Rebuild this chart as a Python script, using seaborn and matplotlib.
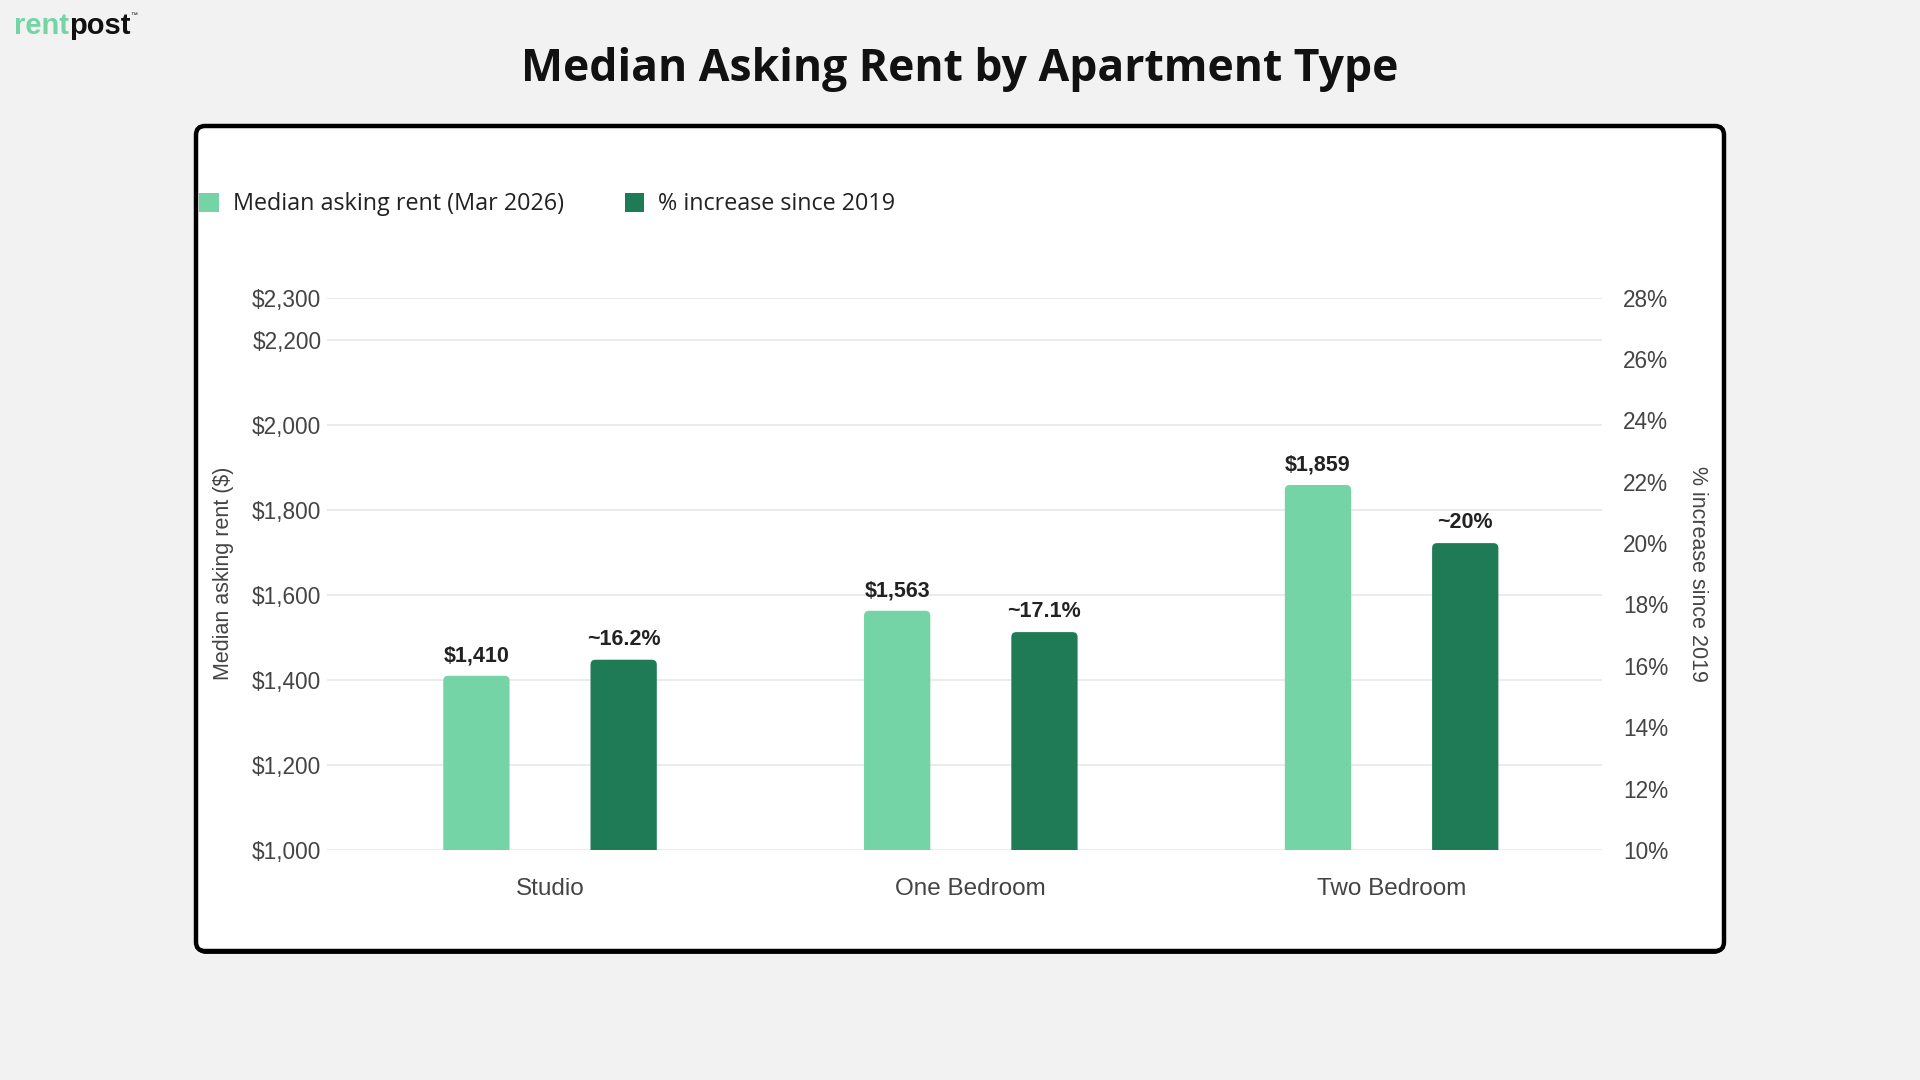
import numpy as np
import pandas as pd
import matplotlib.pyplot as plt
import seaborn as sns
from matplotlib.patches import FancyBboxPatch, Patch
from matplotlib.ticker import FuncFormatter

# data
apt_types = ["Studio", "One Bedroom", "Two Bedroom"]
rent_values = [1410, 1563, 1859]
pct_values = [16.2, 17.1, 20.0]
rent_labels = ["$1,410", "$1,563", "$1,859"]
pct_labels = ["~16.2%", "~17.1%", "~20%"]
series_names = ["Median asking rent (Mar 2026)", "% increase since 2019"]
rent_ticks = [1000, 1200, 1400, 1600, 1800, 2000, 2200, 2300]
pct_ticks = [10, 12, 14, 16, 18, 20, 22, 24, 26, 28]

LIGHT = "#74d4a6"
DARK = "#1f7b55"
TICK_COL = "#444444"

sns.set_style("white")
plt.rcParams["font.family"] = ["Liberation Sans", "DejaVu Sans"]

rent_df = pd.DataFrame({"type": apt_types, "value": rent_values, "series": series_names[0]})
pct_df = pd.DataFrame({"type": apt_types, "value": pct_values, "series": series_names[1]})

fig = plt.figure(figsize=(19.2, 10.8), dpi=100)
fig.patch.set_facecolor("#f2f2f2")

# background layer in pixel coordinates for card, title, logo
bg = fig.add_axes([0, 0, 1, 1], zorder=-5)
bg.set_xlim(0, 1920)
bg.set_ylim(1080, 0)
bg.axis("off")
bg.add_patch(FancyBboxPatch((197, 130), 1526, 824, boxstyle="round,pad=0,rounding_size=9",
                            facecolor="#1a1a1a", edgecolor="none"))
bg.add_patch(FancyBboxPatch((196, 126), 1528, 825, boxstyle="round,pad=0,rounding_size=9",
                            facecolor="white", edgecolor="black", linewidth=3.2))
bg.text(960, 70, "Median Asking Rent by Apartment Type", ha="center", va="center",
        fontsize=32, fontweight="bold", family=["Open Sans", "DejaVu Sans"], color="#111111")
t1 = bg.text(14, 26, "rent", ha="left", va="center", fontsize=21, fontweight="bold",
             color=LIGHT, family=["Liberation Sans"])
t2 = bg.annotate("post", xy=(1, 0), xycoords=t1, ha="left", va="bottom", fontsize=21,
                 fontweight="bold", color="#111111", family=["Liberation Sans"])
bg.annotate("™", xy=(1, 1), xycoords=t2, ha="left", va="top", fontsize=5, color="#111111")

# main axes
ax1 = fig.add_axes([327 / 1920, 1 - 850 / 1080, (1602 - 327) / 1920, (850 - 297.6) / 1080])
ax2 = ax1.twinx()

bar_kw = dict(hue="series", hue_order=series_names, palette=[LIGHT, DARK], width=0.7,
              gap=0.55, dodge=True, saturation=1, errorbar=None, legend=False,
              linewidth=0, zorder=3)
sns.barplot(data=rent_df, x="type", y="value", ax=ax1, **bar_kw)
sns.barplot(data=pct_df, x="type", y="value", ax=ax2, **bar_kw)

ax1.set_ylim(1000, 2300)
ax2.set_ylim(10, 28)
ax1.set_xlim(-0.53, 2.5)
ax1.set_yticks(rent_ticks)
ax2.set_yticks(pct_ticks)
ax1.yaxis.set_major_formatter(FuncFormatter(lambda v, p: f"${v:,.0f}"))
ax2.yaxis.set_major_formatter(FuncFormatter(lambda v, p: f"{v:.0f}%"))

ax1.grid(axis="y", color="#e8e8e8", linewidth=1.2, zorder=0)
ax1.set_axisbelow(True)
for ax in (ax1, ax2):
    for sp in ax.spines.values():
        sp.set_visible(False)
    ax.tick_params(axis="both", length=0, labelsize=16.3, labelcolor=TICK_COL)
    ax.set_facecolor("none")
ax1.tick_params(axis="y", pad=4)
ax2.tick_params(axis="y", pad=15)
ax1.tick_params(axis="x", pad=20, labelsize=17.5)

ax1.set_xlabel("")
ax1.set_ylabel("Median asking rent ($)", fontsize=15.5, color=TICK_COL)
ax2.set_ylabel("% increase since 2019", fontsize=15.5, color=TICK_COL, rotation=270,
               va="bottom")
ax1.yaxis.set_label_coords(-0.073, 0.5)
ax2.yaxis.set_label_coords(1.067, 0.5)

# value labels, then swap the square bars for ones with slightly rounded tops
px_w = ax1.get_window_extent().width
px_h = ax1.get_window_extent().height
for ax, labels in ((ax1, rent_labels), (ax2, pct_labels)):
    bars = [p for p in ax.patches if np.isfinite(p.get_height()) and p.get_height() > 0]
    bars.sort(key=lambda p: p.get_x())
    x0, x1 = ax.get_xlim()
    y0, y1 = ax.get_ylim()
    x_per_px = (x1 - x0) / px_w
    y_per_px = (y1 - y0) / px_h
    for bar, lab in zip(bars, labels):
        top = bar.get_y() + bar.get_height()
        ax.annotate(lab, (bar.get_x() + bar.get_width() / 2, top),
                    xytext=(0, 7), textcoords="offset points", ha="center", va="bottom",
                    fontsize=15.5, fontweight="bold", color="#222222")
        start = y0 - 12 * y_per_px
        rounded = FancyBboxPatch((bar.get_x(), start), bar.get_width(), top - start,
                                 boxstyle=f"round,pad=0,rounding_size={5 * x_per_px}",
                                 mutation_aspect=y_per_px / x_per_px,
                                 facecolor=bar.get_facecolor(), edgecolor="none", zorder=3)
        bar.remove()
        ax.add_patch(rounded)

# legend
handles = [Patch(facecolor=LIGHT, edgecolor="none", label=series_names[0]),
           Patch(facecolor=DARK, edgecolor="none", label=series_names[1])]
leg = fig.legend(handles=handles, loc="center left", bbox_to_anchor=(199 / 1920, 1 - 204.5 / 1080),
                 ncol=2, frameon=False, handlelength=0.85, handleheight=0.85,
                 handletextpad=0.6, columnspacing=2.6, borderpad=0, borderaxespad=0,
                 prop={"family": ["Open Sans", "DejaVu Sans"], "size": 16.8})
for txt in leg.get_texts():
    txt.set_color("#222222")

fig.savefig("out.png", dpi=100, facecolor=fig.get_facecolor())
